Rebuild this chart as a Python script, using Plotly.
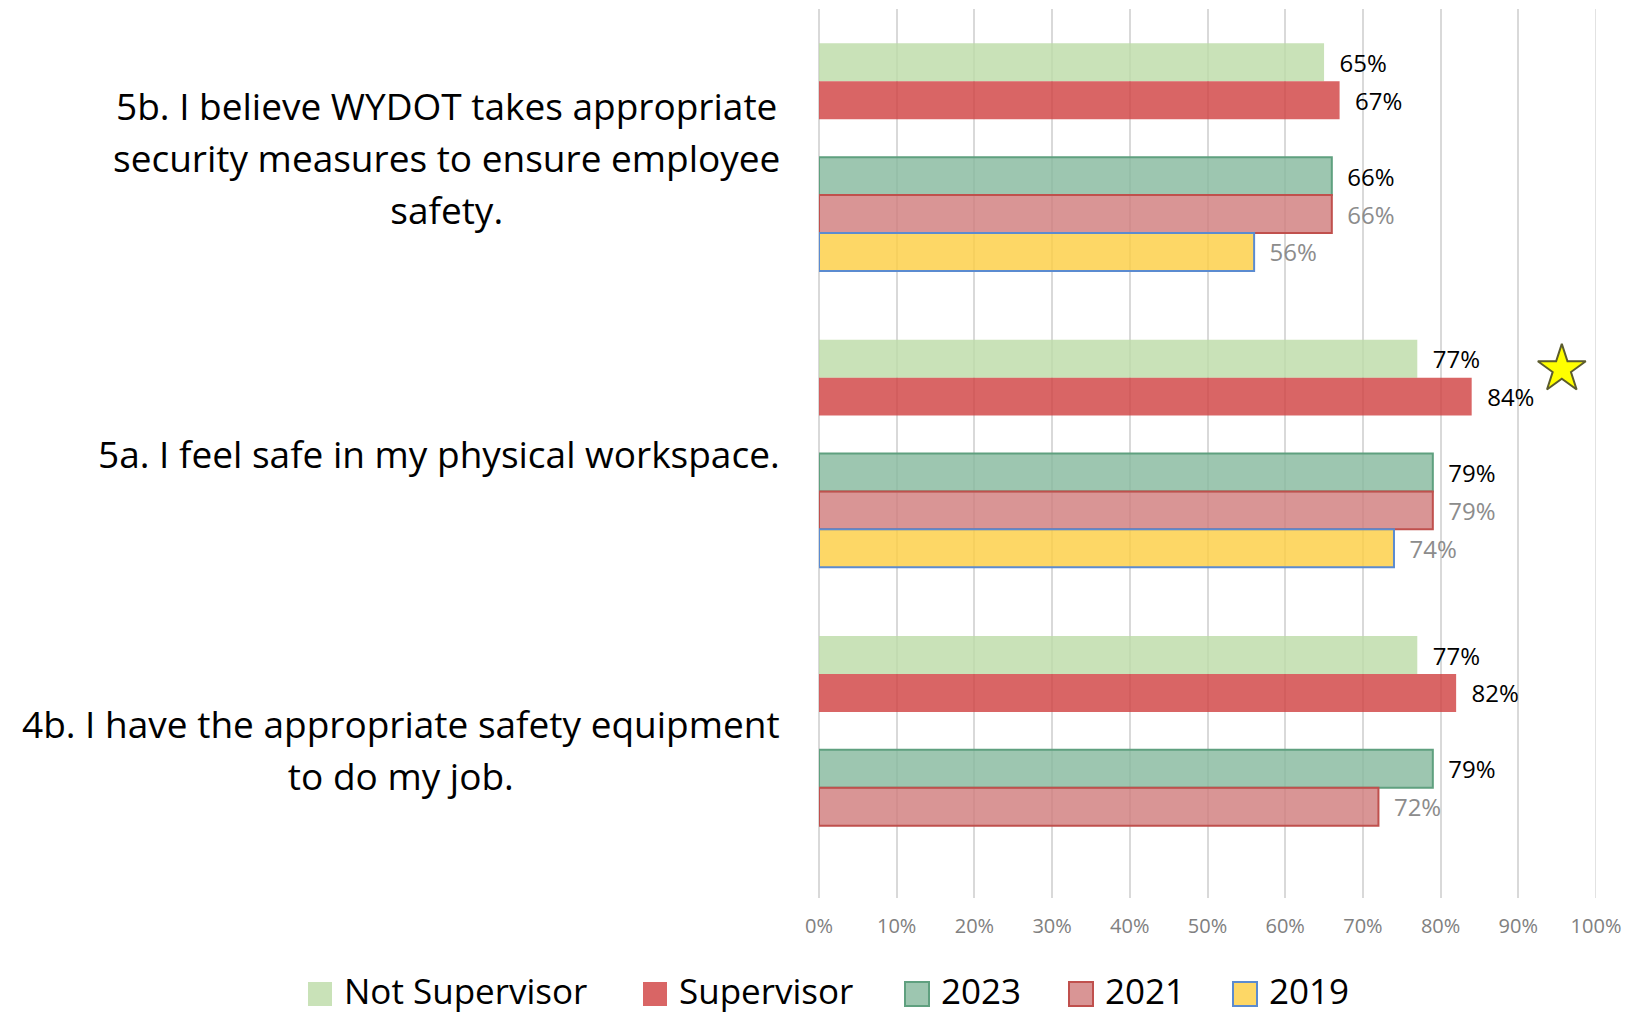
import plotly.graph_objects as go

# data (fractions of respondents agreeing)
questions = ["5b", "5a", "4b"]
question_text = [
    "5b. I believe WYDOT takes appropriate<br>security measures to ensure employee<br>safety.",
    "5a. I feel safe in my physical workspace.",
    "4b. I have the appropriate safety equipment<br>to do my job.",
]
not_supervisor = [0.65, 0.77, 0.77]
supervisor = [0.67, 0.84, 0.82]
y2023 = [0.66, 0.79, 0.79]
y2021 = [0.66, 0.79, 0.72]
y2019 = [0.56, 0.74, None]

FONT = "Open Sans"
GRID = "#D9D9D9"
W, H = 1636, 1014
M = dict(l=819, r=40, t=9, b=116)
PW = W - M["l"] - M["r"]
PH = H - M["t"] - M["b"]


def px_x(px):
    return (px - M["l"]) / PW


def px_y(py):
    return (H - M["b"] - py) / PH


series = [
    # name, values, fill, outline, label colour
    ("Not Supervisor", not_supervisor, "rgba(188,219,166,0.8)", None, "#000000"),
    ("Supervisor", supervisor, "rgba(207,63,63,0.8)", None, "#000000"),
    (None, [0, 0, 0], "rgba(0,0,0,0)", None, "#000000"),  # blank slot between the two blocks
    ("2023", y2023, "rgba(132,184,156,0.8)", "#5FA07F", "#000000"),
    ("2021", y2021, "rgba(207,122,122,0.8)", "#C0504D", "#8C8C8C"),
    ("2019", y2019, "rgba(253,205,64,0.8)", "#5B8BD0", "#8C8C8C"),
]

fig = go.Figure()

for name, vals, fill, outline, lab_col in series:
    if name is None:
        fig.add_trace(go.Bar(
            y=questions, x=vals, orientation="h", showlegend=False,
            marker=dict(color=fill, line=dict(width=0)), hoverinfo="skip",
        ))
        continue
    fig.add_trace(go.Bar(
        y=questions,
        x=vals,
        name=name,
        orientation="h",
        showlegend=False,
        marker=dict(color=fill, line=dict(color=outline or "rgba(0,0,0,0)", width=2 if outline else 0)),
        texttemplate="\u00a0\u00a0%{x:.0%}",
        textposition="outside",
        constraintext="none",
        cliponaxis=False,
        textfont=dict(family=FONT, size=24, color=lab_col),
    ))

# star marking the highest score
fig.add_trace(go.Scatter(
    x=[0.956], y=[0.595], xaxis="x", yaxis="y2", mode="markers",
    marker=dict(symbol="star", size=36, color="#FFFF00", line=dict(color="#5C5C2E", width=2)),
    showlegend=False, hoverinfo="skip",
))

# question labels, centred text block right-aligned against the plot
for q, txt in zip(questions, question_text):
    lines = "<br>".join(f"<span style='font-size:37px'>{ln}</span>" for ln in txt.split("<br>"))
    fig.add_annotation(
        x=0, xref="paper", y=q, yref="y",
        text=lines, showarrow=False,
        xanchor="right", yanchor="middle", xshift=-37, align="center",
        font=dict(family=FONT, size=40, color="#000000"),
    )

# make sure the 100% gridline at the range edge is drawn
fig.add_shape(type="line", xref="x", yref="paper", x0=1, x1=1, y0=0, y1=1,
              line=dict(color=GRID, width=1.5), layer="below")

# legend along the bottom (bigger swatches than plotly's built-in legend)
legend_x = [308, 643, 905, 1069, 1233]
legend_entries = [s for s in series if s[0] is not None]
for (name, _, fill, outline, _), sx in zip(legend_entries, legend_x):
    fig.add_shape(
        type="rect", xref="paper", yref="paper",
        x0=px_x(sx), x1=px_x(sx + 24), y0=px_y(1006), y1=px_y(982),
        fillcolor=fill, line=dict(color=outline or "rgba(0,0,0,0)", width=2 if outline else 0),
    )
    fig.add_annotation(
        x=px_x(sx + 34), xref="paper", y=px_y(990), yref="paper",
        text=name, showarrow=False, xanchor="left", yanchor="middle",
        font=dict(family=FONT, size=35, color="#000000"),
    )

fig.update_layout(
    width=W, height=H,
    template="plotly_white",
    plot_bgcolor="white", paper_bgcolor="white",
    margin=dict(**M, autoexpand=False),
    barmode="group", bargap=0.232, bargroupgap=0,
    font=dict(family=FONT),
    showlegend=False,
    xaxis=dict(
        range=[0, 1], dtick=0.1, tickformat=".0%",
        showgrid=True, gridcolor=GRID, gridwidth=1.5,
        zeroline=True, zerolinecolor=GRID, zerolinewidth=1.5,
        showline=False, ticks="",
        ticklabelstandoff=14,
        tickfont=dict(family=FONT, size=20, color="#808080"),
    ),
    yaxis=dict(type="category", autorange="reversed", showticklabels=False,
               showgrid=False, zeroline=False),
    yaxis2=dict(overlaying="y", range=[0, 1], visible=False),
)

# drop the browser's default body margin so the figure sits at the page corner
fig.write_html("out.html", config={"displayModeBar": False},
               post_script="document.body.style.margin='0px';")
